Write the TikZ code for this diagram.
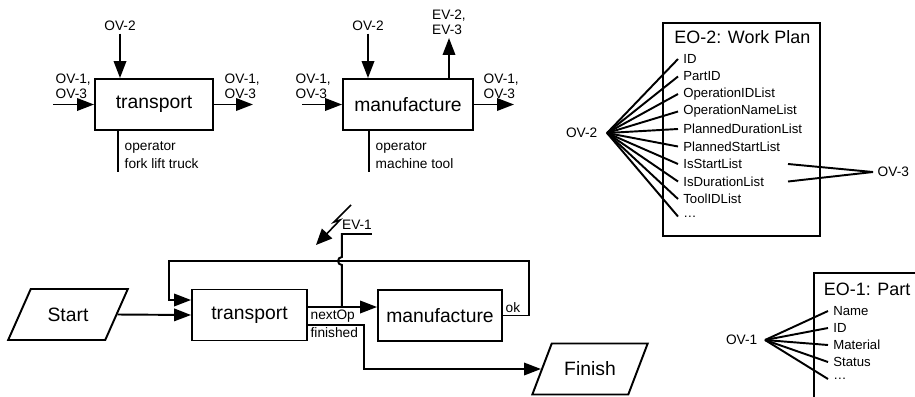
\documentclass[tikz,border=0pt]{standalone}
\usepackage{fontspec}
\setmainfont{Liberation Sans}
\setsansfont{Liberation Sans}
\usetikzlibrary{arrows.meta, positioning, shapes.geometric, calc}
\tikzset{
  every picture/.style={font=\sffamily, line width=1.1pt},
  proc/.style={draw, minimum height=1.02cm, inner sep=2pt, font=\sffamily\fontsize{11}{13}\selectfont},
  io/.style={draw, trapezium, trapezium left angle=55, trapezium right angle=125, trapezium stretches=true, minimum width=2.4cm, minimum height=1.02cm, inner sep=2pt, font=\sffamily\fontsize{11}{13}\selectfont},
  arrow/.style={-{Triangle[length=0.34cm, width=0.25cm]}},
  var/.style={font=\sffamily\fontsize{7.8}{8.2}\selectfont, align=left, inner sep=1pt},
  res/.style={font=\sffamily\fontsize{7.8}{10}\selectfont, align=left, inner sep=1pt},
  attr/.style={font=\sffamily\fontsize{7.5}{9}\selectfont, inner sep=2.5pt, anchor=west},
  title/.style={font=\sffamily\fontsize{10.2}{12}\selectfont, inner sep=2pt, anchor=west},
  note/.style={font=\sffamily\fontsize{7.8}{9}\selectfont, inner sep=1pt},
}

\begin{document}
\begin{tikzpicture}[x=0.02cm, y=-0.02cm]
  \useasboundingbox (0,0) rectangle (915,396);
  \clip (0,0) rectangle (915,396);
  % function: transport
  \node[proc, minimum width=2.36cm] (tr1) at (154,104.5) {transport};
  \node[var] (ov2a) at (120,26) {OV-2};
  \draw[arrow] (ov2a) -- (ov2a |- tr1.north);
  \coordinate (in1) at (53,104.5);
  \node[var, anchor=south west] (ov13a) at (53,101) {OV-1,\\OV-3};
  \draw[arrow] (in1) -- (tr1.west);
  \coordinate (out1) at (253,104.5);
  \node[var, anchor=south west] (ov13b) at (222,101) {OV-1,\\OV-3};
  \draw[arrow] (tr1.east) -- (out1);
  \coordinate (rs1) at (118,172);
  \draw (rs1 |- tr1.south) -- (rs1);
  \node[res, anchor=north west] (rl1) at (122,139) {operator\\fork lift truck};
  % function: manufacture
  \node[proc, minimum width=2.6cm] (mf1) at (408,104.5) {manufacture};
  \node[var] (ov2b) at (368,26) {OV-2};
  \draw[arrow] (ov2b) -- (ov2b |- mf1.north);
  \coordinate (ev23) at (449,38);
  \draw[arrow] (ev23 |- mf1.north) -- (ev23);
  \node[var, anchor=south] (ev23l) at (449,37) {EV-2,\\EV-3};
  \coordinate (in2) at (302,104.5);
  \node[var, anchor=south west] (ov13c) at (293,101) {OV-1,\\OV-3};
  \draw[arrow] (in2) -- (mf1.west);
  \coordinate (out2) at (514,104.5);
  \node[var, anchor=south west] (ov13d) at (481,101) {OV-1,\\OV-3};
  \draw[arrow] (mf1.east) -- (out2);
  \coordinate (rs2) at (369,172);
  \draw (rs2 |- mf1.south) -- (rs2);
  \node[res, anchor=north west] (rl2) at (373,139) {operator\\machine tool};
  % object: work plan
  \node[draw, minimum width=3.14cm, minimum height=4.26cm, inner sep=0pt] (eo2) at (741.5,129.5) {};
  \node[title] (eo2t) at (670,37) {EO-2: Work Plan};
  \foreach \a [count=\i] in {ID, PartID, OperationIDList, OperationNameList, PlannedDurationList, PlannedStartList, IsStartList, IsDurationList, ToolIDList, \ldots}
    \node[attr] (wp\i) at (678,41.5+17.5*\i) {\a};
  \coordinate (f2) at (607,133);
  \node[var, left=0.14cm of f2] (ov2c) {OV-2};
  \foreach \i in {1,...,10} \draw (f2) -- (wp\i.west);
  \coordinate (f3) at (873,172);
  \node[var, right=0.04cm of f3] (ov3) {OV-3};
  \draw (f3) -- ($(wp7.west)+(110,0)$);
  \draw (f3) -- ($(wp8.west)+(110,0)$);
  % object: part
  \node[draw, minimum width=2.4cm, minimum height=3cm, anchor=north west] (eo1) at (813,272) {};
  \node[title] (eo1t) at (819.5,289) {EO-1: Part};
  \foreach \a [count=\i] in {Name, ID, Material, Status, \ldots}
    \node[attr] (pt\i) at (828,294+17*\i) {\a};
  \coordinate (f1) at (765,340);
  \node[var, left=0.1cm of f1] (ov1) {OV-1};
  \foreach \i in {1,...,5} \draw (f1) -- (pt\i.west);
  % process chain
  \node[io] (st) at (68,314.5) {Start};
  \node[proc, minimum width=2.3cm] (tr2) at (249.5,315) {transport};
  \node[proc, minimum width=2.48cm] (mf2) at (440,315.5) {manufacture};
  \node[io, minimum width=2.32cm] (fin) at (590,369) {Finish};
  \draw[arrow] (st.east) -- (tr2.west);
  \draw[arrow] ($(tr2.east)+(0,-8)$) coordinate (nx) -- (nx -| mf2.west);
  \node[note, anchor=north west] (nxl) at (nx) {nextOp};
  \draw[arrow] ($(tr2.east)+(0,10)$) coordinate (fs) -- ++(56,0) |- (fin.west);
  \node[note, anchor=north west] (fsl) at (fs) {finished};
  \draw[arrow] (mf2.east) -- ++(26,0) -- ++(0,-54.5) -| ($(tr2.west)+(-22,-15)$) -- ($(tr2.west)+(0,-15)$);
  \node[note, anchor=south west] (okl) at (mf2.east) {ok};
  % event
  \draw ($(nx)+(34,0)$) -- ++(0,-42) arc[start angle=90, end angle=270, radius=4] -- ++(0,-23) -- ++(30,0);
  \node[note, anchor=south] (ev1) at (357,232) {EV-1};
  \draw[-{Triangle[length=0.32cm, width=0.28cm]}, line width=0.9pt] (351,205) -- (334,222) -- (340,220) -- (316,245);
\end{tikzpicture}
\end{document}
